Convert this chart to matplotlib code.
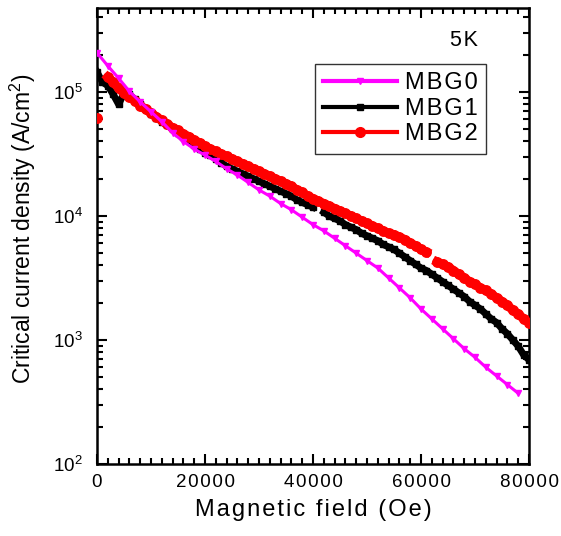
import numpy as np
import matplotlib
matplotlib.use('Agg')
import matplotlib.pyplot as plt
from matplotlib.lines import Line2D
from matplotlib.ticker import LogLocator, MultipleLocator, NullFormatter, FuncFormatter

plt.rcParams['font.family'] = ['Liberation Sans', 'DejaVu Sans']
plt.rcParams['mathtext.fontset'] = 'custom'
plt.rcParams['mathtext.rm'] = 'Liberation Sans'
plt.rcParams['mathtext.it'] = 'Liberation Sans:italic'
plt.rcParams['mathtext.bf'] = 'Liberation Sans:bold'

HS = '\u200a'  # hair space, the original text is letter-spaced


def spaced(s):
    return HS.join(s)


# MBG0: field (Oe) and log10 of Jc (A/cm^2)
field_mbg0 = np.arange(0, 78001, 2000)
logjc_mbg0 = [5.316, 5.21, 5.11, 5.005, 4.92, 4.84, 4.76, 4.67, 4.60, 4.54,
              4.49, 4.44, 4.38, 4.33, 4.27, 4.21, 4.16, 4.10, 4.05, 3.99,
              3.93, 3.88, 3.82, 3.76, 3.70, 3.64, 3.58, 3.50, 3.42, 3.34,
              3.25, 3.17, 3.09, 3.01, 2.93, 2.86, 2.78, 2.71, 2.64, 2.57]

# MBG1 and MBG2 every 1000 Oe (nan = gap in the measured curve)
field_dense = np.arange(0, 80001, 1000)
logjc_mbg1 = [5.16, 5.08, 5.05, 4.98, 4.90, 4.99, 4.98, 4.94, 4.90, 4.86,
              4.82, 4.79, 4.76, 4.73, 4.70, 4.67, 4.64, 4.61, 4.57, 4.54,
              4.51, 4.49, 4.46, 4.43, 4.40, 4.38, 4.36, 4.34, 4.32, 4.30,
              4.28, 4.26, 4.24, 4.22, 4.20, 4.18, 4.16, 4.13, 4.11, 4.09,
              4.07, np.nan, 4.03, 4.00, 3.98, 3.96, 3.93, 3.91, 3.89, 3.86,
              3.84, 3.82, 3.80, 3.77, 3.75, 3.73, 3.70, 3.67, 3.64, 3.61,
              3.58, 3.56, 3.53, 3.50, 3.47, 3.44, 3.41, 3.38, 3.35, 3.31,
              3.28, 3.25, 3.21, 3.17, 3.14, 3.09, 3.05, 3.00, 2.95, 2.88,
              2.84]
logjc_mbg2 = [4.79, np.nan, 5.12, 5.08, 5.03, 4.99, 4.96, 4.93, 4.89, 4.86,
              4.83, 4.80, 4.77, 4.74, 4.71, 4.69, 4.66, 4.64, 4.61, 4.59,
              4.56, 4.54, 4.52, 4.50, 4.48, 4.46, 4.44, 4.42, 4.40, 4.38,
              4.36, 4.34, 4.32, 4.30, 4.28, 4.26, 4.24, 4.21, 4.19, 4.16,
              4.14, 4.12, 4.10, 4.08, 4.06, 4.04, 4.02, 4.00, 3.98, 3.96,
              3.94, 3.92, 3.90, 3.88, 3.86, 3.85, 3.83, 3.81, 3.78, 3.76,
              3.73, 3.71, np.nan, 3.63, 3.61, 3.59, 3.56, 3.53, 3.50, 3.47,
              3.45, 3.42, 3.40, 3.37, 3.34, 3.31, 3.28, 3.24, 3.21, 3.17,
              3.14]

jc_mbg0 = 10 ** np.array(logjc_mbg0)
jc_mbg1 = 10 ** np.array(logjc_mbg1)
jc_mbg2 = 10 ** np.array(logjc_mbg2)

fig = plt.figure(figsize=(5.61, 5.36), dpi=100)
ax = fig.add_axes([97 / 561, 72 / 536, 432 / 561, 456 / 536])

ax.plot(field_dense, jc_mbg1, color='black', marker='s', ms=5, lw=5,
        zorder=2)
ax.plot(field_dense, jc_mbg2, color='red', marker='o', ms=6.8, lw=6.5,
        zorder=3)
ax.plot(field_mbg0, jc_mbg0, color='magenta', marker='v', ms=5, lw=2.2,
        zorder=4)

ax.set_yscale('log')
ax.set_xlim(0, 80000)
ax.set_ylim(100, 4.75e5)

ax.xaxis.set_major_locator(MultipleLocator(20000))
ax.xaxis.set_minor_locator(MultipleLocator(2000))
ax.xaxis.set_major_formatter(FuncFormatter(lambda v, p: spaced(f'{v:.0f}')))
ax.yaxis.set_major_locator(LogLocator(base=10, numticks=10))
ax.yaxis.set_minor_locator(LogLocator(base=10, subs=np.arange(2, 10), numticks=20))
ax.yaxis.set_minor_formatter(NullFormatter())

ax.tick_params(which='both', direction='in', top=True, right=True, width=1.5)
ax.tick_params(which='major', length=7, labelsize=13.5)
ax.tick_params(axis='x', which='major', pad=7)
ax.tick_params(axis='y', which='major', pad=10)
ax.tick_params(which='minor', length=4)
for s in ax.spines.values():
    s.set_linewidth(1.8)

ax.set_xlabel(spaced('Magnetic field (Oe)'), fontsize=17, labelpad=6)
ax.set_ylabel('Critical current density (A/cm$^2$)', fontsize=16.5)
ax.yaxis.set_label_coords(-0.137, 0.515)

ax.text(0.85, 0.928, spaced('5K'), transform=ax.transAxes, fontsize=15.5,
        ha='center', va='center')

handles = [
    Line2D([], [], color='magenta', lw=3, marker='v', ms=5),
    Line2D([], [], color='black', lw=3, marker='s', ms=5),
    Line2D([], [], color='red', lw=3, marker='o', ms=7),
]
labels = [spaced('MBG0'), spaced('MBG1'), spaced('MBG2')]
leg = ax.legend(handles, labels,
                loc='upper left', bbox_to_anchor=(0.505, 0.877), borderaxespad=0,
                fontsize=17, handlelength=3.1, handletextpad=0.35, labelspacing=0.15,
                numpoints=1, fancybox=False, framealpha=1, edgecolor='#333333',
                borderpad=0.35)
leg.get_frame().set_linewidth(1.0)

fig.savefig('out.png', dpi=100)
